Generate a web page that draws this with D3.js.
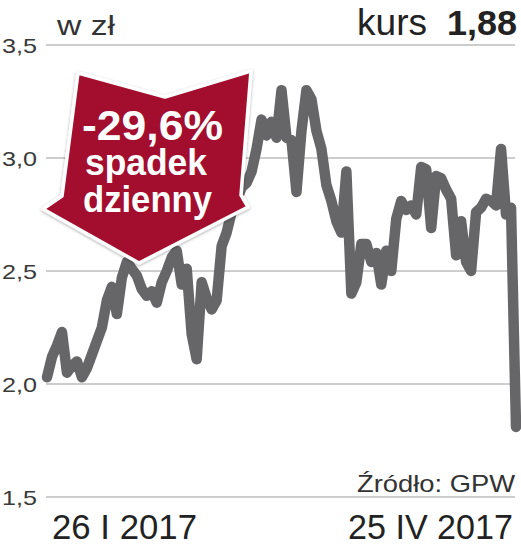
<!DOCTYPE html>
<html><head><meta charset="utf-8">
<script src="https://cdn.jsdelivr.net/npm/d3@7"></script>
<style>body{margin:0;background:#fff}svg{display:block}</style>
</head><body>
<svg id="c" width="521" height="549"></svg>
<script>
const prices = [2.03,2.12,2.17,2.23,2.05,2.08,2.10,2.03,2.07,2.13,2.19,2.25,2.37,2.43,2.31,2.47,2.54,2.51,2.48,2.42,
2.39,2.41,2.36,2.45,2.50,2.56,2.59,2.44,2.51,2.22,2.11,2.45,2.38,2.33,2.37,2.61,2.67,2.76,2.81,2.87,
2.89,2.94,3.04,3.17,3.10,3.16,3.09,3.30,3.09,3.08,2.85,3.12,3.30,3.26,3.12,3.04,2.88,2.81,2.72,2.67,
2.94,2.40,2.45,2.62,2.62,2.54,2.58,2.44,2.59,2.50,2.73,2.81,2.77,2.79,2.75,2.96,2.95,2.69,2.92,2.91,
2.86,2.82,2.57,2.72,2.54,2.50,2.76,2.78,2.82,2.81,2.79,3.04,2.75,2.78,1.81];
const tickValues = [1.5,2.0,2.5,3.0,3.5];
const tickLabels = ["1,5","2,0","2,5","3,0","3,5"];
const dateLabels = ["26 I 2017","25 IV 2017"];
const unitLabel = "w zł";
const lastLabel = "kurs";
const lastValue = "1,88";
const sourceLabel = "Źródło: GPW";
const arrowTexts = ["-29,6%","spadek","dzienny"];

const svg = d3.select("#c");
const y = d3.scaleLinear().domain([1.5,3.5]).range([497,45]);
const x = d3.scaleLinear().domain([0,prices.length-1]).range([47,516]);
const FONT = "'Liberation Sans Narrow','Liberation Sans',sans-serif";

// grid
svg.append("g").selectAll("line").data(tickValues).join("line")
  .attr("x1",46).attr("x2",515).attr("y1",d=>y(d)).attr("y2",d=>y(d))
  .attr("stroke","#bdbdbd").attr("stroke-width",1.6);
svg.append("g").selectAll("text").data(tickValues).join("text")
  .attr("x",2).attr("y",d=>y(d)+8).text((d,i)=>tickLabels[i])
  .attr("font-family",FONT).attr("font-size",21).attr("fill","#3a3a3a")
  .attr("textLength",35).attr("lengthAdjust","spacingAndGlyphs");

// line
const line = d3.line().x((d,i)=>x(i)).y(d=>y(d));
svg.append("path").datum(prices).attr("d",line)
  .attr("fill","none").attr("stroke","#666668").attr("stroke-width",10.5)
  .attr("stroke-linejoin","round").attr("stroke-linecap","round");

// header texts
svg.append("text").attr("x",57).attr("y",35).text(unitLabel)
  .attr("font-family",FONT).attr("font-size",27).attr("fill","#333")
  .attr("textLength",58).attr("lengthAdjust","spacingAndGlyphs");
svg.append("text").attr("x",357).attr("y",35).text(lastLabel)
  .attr("font-family",FONT).attr("font-size",37).attr("fill","#222")
  .attr("textLength",70).attr("lengthAdjust","spacingAndGlyphs");
svg.append("text").attr("x",447).attr("y",35).text(lastValue)
  .attr("font-family",FONT).attr("font-weight","bold").attr("font-size",35).attr("fill","#222")
  .attr("textLength",70).attr("lengthAdjust","spacingAndGlyphs");

// source & dates
svg.append("text").attr("x",357).attr("y",492).text(sourceLabel)
  .attr("font-family",FONT).attr("font-size",24).attr("fill","#333")
  .attr("textLength",158).attr("lengthAdjust","spacingAndGlyphs");
svg.append("text").attr("x",52).attr("y",539).text(dateLabels[0])
  .attr("font-family",FONT).attr("font-size",35).attr("fill","#222")
  .attr("textLength",145).attr("lengthAdjust","spacingAndGlyphs");
svg.append("text").attr("x",348).attr("y",539).text(dateLabels[1])
  .attr("font-family",FONT).attr("font-size",35).attr("fill","#222")
  .attr("textLength",165).attr("lengthAdjust","spacingAndGlyphs");

// arrow annotation
const defs = svg.append("defs");
const f = defs.append("filter").attr("id","sh").attr("x","-20%").attr("y","-20%").attr("width","140%").attr("height","140%");
f.append("feDropShadow").attr("dx",0).attr("dy",1).attr("stdDeviation",1.8).attr("flood-color","#000").attr("flood-opacity",0.35);
const pts = [[78,73],[165,97],[251,71],[241,195],[248,207],[139,263],[43,209],[62,196]];
svg.append("polygon").attr("points",pts.map(p=>p.join(",")).join(" "))
  .attr("fill","#a3102d").attr("stroke","#fff").attr("stroke-width",3.5)
  .attr("stroke-linejoin","round").attr("filter","url(#sh)");
const at = [{t:arrowTexts[0],x:82,y:140,s:42,w:141},{t:arrowTexts[1],x:85,y:175,s:36,w:122},{t:arrowTexts[2],x:83,y:212,s:36,w:129}];
svg.append("g").selectAll("text").data(at).join("text")
  .attr("x",d=>d.x).attr("y",d=>d.y).text(d=>d.t)
  .attr("font-family",FONT).attr("font-weight","bold").attr("font-size",d=>d.s).attr("fill","#fff")
  .attr("textLength",d=>d.w).attr("lengthAdjust","spacingAndGlyphs");
</script>
</body></html>
